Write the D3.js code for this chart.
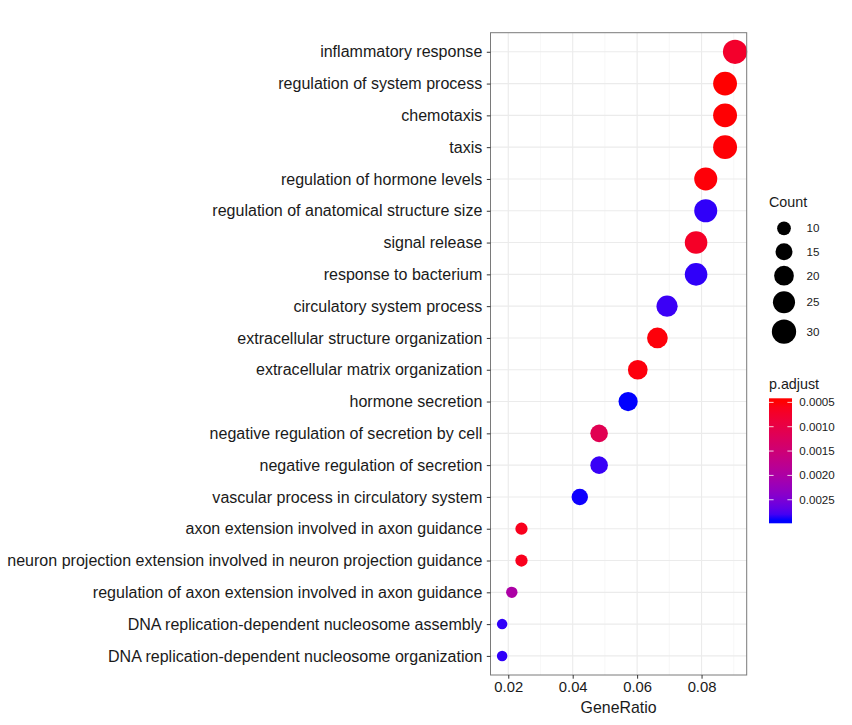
<!DOCTYPE html>
<html><head><meta charset="utf-8">
<script src="https://cdn.jsdelivr.net/npm/d3@7"></script>
<style>body{margin:0;background:#fff;} text{font-family:"Liberation Sans",Arial,sans-serif;}</style>
</head><body>
<svg id="chart" width="852" height="725"></svg>
<script>
const categories = [
  "inflammatory response",
  "regulation of system process",
  "chemotaxis",
  "taxis",
  "regulation of hormone levels",
  "regulation of anatomical structure size",
  "signal release",
  "response to bacterium",
  "circulatory system process",
  "extracellular structure organization",
  "extracellular matrix organization",
  "hormone secretion",
  "negative regulation of secretion by cell",
  "negative regulation of secretion",
  "vascular process in circulatory system",
  "axon extension involved in axon guidance",
  "neuron projection extension involved in neuron projection guidance",
  "regulation of axon extension involved in axon guidance",
  "DNA replication-dependent nucleosome assembly",
  "DNA replication-dependent nucleosome organization"
];
const geneRatio = [0.0904,0.0873,0.0873,0.0873,0.0813,0.0813,0.0783,0.0783,0.0693,0.0663,0.0602,0.0572,0.0482,0.0482,0.0422,0.0241,0.0241,0.0211,0.0181,0.0181];
const counts = [30,29,29,29,27,27,26,26,23,22,20,19,16,16,14,8,8,7,6,6];
const pAdjust = [0.00074,0.00048,0.00049,0.00050,0.00051,0.00286,0.00070,0.00286,0.00283,0.00052,0.00053,0.00292,0.00112,0.00284,0.00291,0.00062,0.00062,0.00200,0.00286,0.00286];
const xTicks = [0.02,0.04,0.06,0.08];
const xMinor = [0.03,0.05,0.07,0.09];
const sizeBreaks = [10,15,20,25,30];
const colorBreaks = [0.0005,0.0010,0.0015,0.0020,0.0025];

const svg = d3.select("#chart");
const P = {left:490.5, right:746.7, top:32.7, bottom:675};

const xExt = d3.extent(geneRatio);
const xPad = (xExt[1]-xExt[0])*0.05;
const x = d3.scaleLinear().domain([xExt[0]-xPad, xExt[1]+xPad]).range([P.left, P.right]);
const y = d3.scalePoint().domain(categories).range([P.top, P.bottom]).padding(0.6);
const cExt = [0.00048, 0.00292];
const color = d3.scaleLinear().domain(cExt).range(["#ff0000","#0000ff"]).interpolate(d3.interpolateLab);
const r = d3.scaleSqrt().domain([6,30]).range([0,1]);
const rad = c => (10.5 + 13.8*r(c))/2;

const data = categories.map((c,i)=>({cat:c, gr:geneRatio[i], n:counts[i], p:pAdjust[i]}));

// grid
const g = svg.append("g");
g.selectAll(".minor").data(xMinor.filter(v=>v>=x.domain()[0]&&v<=x.domain()[1])).join("line")
  .attr("x1",d=>x(d)).attr("x2",d=>x(d)).attr("y1",P.top).attr("y2",P.bottom)
  .attr("stroke","#f2f2f2").attr("stroke-width",0.6);
g.selectAll(".majx").data(xTicks).join("line")
  .attr("x1",d=>x(d)).attr("x2",d=>x(d)).attr("y1",P.top).attr("y2",P.bottom)
  .attr("stroke","#ebebeb").attr("stroke-width",1.1);
g.selectAll(".majy").data(categories).join("line")
  .attr("y1",d=>y(d)).attr("y2",d=>y(d)).attr("x1",P.left).attr("x2",P.right)
  .attr("stroke","#ebebeb").attr("stroke-width",1.1);

// points
svg.append("g").selectAll("circle").data(data).join("circle")
  .attr("cx",d=>x(d.gr)).attr("cy",d=>y(d.cat)).attr("r",d=>rad(d.n))
  .attr("fill",d=>color(d.p));

// border
svg.append("rect").attr("x",P.left).attr("y",P.top).attr("width",P.right-P.left).attr("height",P.bottom-P.top)
  .attr("fill","none").attr("stroke","#7a7a7a").attr("stroke-width",1);

// axes
const yAxis = d3.axisLeft(y).tickSize(3.7).tickPadding(4.5);
const ya = svg.append("g").attr("transform",`translate(${P.left},0)`).call(yAxis);
ya.select(".domain").remove();
ya.selectAll("line").attr("stroke","#333");
ya.selectAll("text").attr("font-size","16.05px").attr("fill","#1a1a1a").attr("font-family","Liberation Sans, Arial, sans-serif");

const xAxis = d3.axisBottom(x).tickValues(xTicks).tickFormat(d3.format(".2f")).tickSize(3.7).tickPadding(3);
const xa = svg.append("g").attr("transform",`translate(0,${P.bottom})`).call(xAxis);
xa.select(".domain").remove();
xa.selectAll("line").attr("stroke","#333");
xa.selectAll("text").attr("font-size","14.8px").attr("fill","#1a1a1a").attr("font-family","Liberation Sans, Arial, sans-serif");

svg.append("text").attr("x",(P.left+P.right)/2).attr("y",713).attr("text-anchor","middle")
  .attr("font-size","15.9px").attr("fill","#1a1a1a").text("GeneRatio");

// size legend
const L = {x:769};
svg.append("text").attr("x",L.x).attr("y",207).attr("font-size","14.3px").attr("fill","#1a1a1a").text("Count");
const sizeKeyPos = {10:228.3,15:251.7,20:275.7,25:302.3,30:331.7};
const sl = svg.append("g");
sizeBreaks.forEach(b=>{
  sl.append("circle").attr("cx",784).attr("cy",sizeKeyPos[b]).attr("r",rad(b)).attr("fill","#000");
  sl.append("text").attr("x",806.5).attr("y",sizeKeyPos[b]+4).attr("font-size","11.6px").attr("fill","#1a1a1a").text(b);
});

// color legend
svg.append("text").attr("x",L.x).attr("y",389).attr("font-size","14.3px").attr("fill","#1a1a1a").text("p.adjust");
const bar = {x:769, y:398.3, w:23, h:125};
const defs = svg.append("defs");
const grad = defs.append("linearGradient").attr("id","pg").attr("x1",0).attr("x2",0).attr("y1",0).attr("y2",1);
const inset = 3.1/bar.h;
d3.range(0,1.0001,0.05).forEach(t=>{
  const v = cExt[0] + t*(cExt[1]-cExt[0]);
  grad.append("stop").attr("offset", inset + t*(1-2*inset)).attr("stop-color", color(v));
});
svg.append("rect").attr("x",bar.x).attr("y",bar.y).attr("width",bar.w).attr("height",bar.h).attr("fill","url(#pg)");
const cy = d3.scaleLinear().domain(cExt).range([bar.y+3.1, bar.y+bar.h-3.1]);
const cl = svg.append("g");
colorBreaks.forEach(b=>{
  cl.append("line").attr("x1",bar.x).attr("x2",bar.x+4.6).attr("y1",cy(b)).attr("y2",cy(b)).attr("stroke","#fff").attr("stroke-opacity",0.8);
  cl.append("line").attr("x1",bar.x+bar.w-4.6).attr("x2",bar.x+bar.w).attr("y1",cy(b)).attr("y2",cy(b)).attr("stroke","#fff").attr("stroke-opacity",0.8);
  cl.append("text").attr("x",799.3).attr("y",cy(b)+4).attr("font-size","11.6px").attr("fill","#1a1a1a").text(d3.format(".4f")(b));
});
</script>
</body></html>
